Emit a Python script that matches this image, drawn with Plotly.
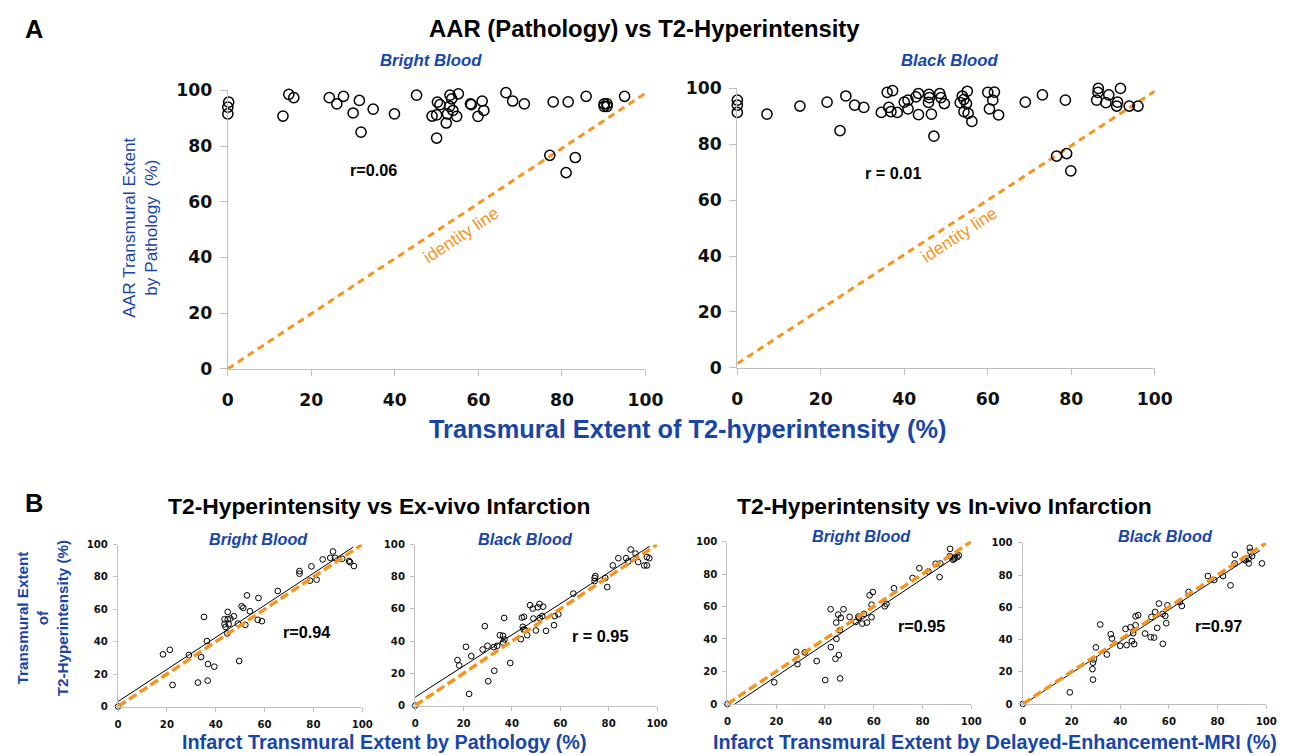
import plotly.graph_objects as go

W, H = 1289, 755
# measured photo mapping of this page: photo = A + S * figure_px
AX, SX = 11.0, 0.99
AY, SY = 17.3, 0.977
FS = 1 / 0.985  # font compensation for the photo shrink

# ---------------- DATA ----------------
# Panel A1: AAR (Pathology) vs T2 - Bright Blood
a1_x = [0.2, 0, 0, 13.2, 14.6, 15.8, 24.3, 26.1, 27.7, 30, 31.5, 31.9, 34.8, 39.9, 45.2,
        48.9, 50, 50, 50.2, 50.8, 52.3, 52.6, 53.2, 53.6, 53.1, 53.9, 54.8, 55.2, 58.1, 58.3,
        59.9, 60.9, 61.3, 66.6, 68.2, 71, 77.1, 77.9, 81, 81.5, 83.2, 85.8, 86.3, 88.4, 89,
        90.1, 90.8, 90.1, 90.8, 95]
a1_y = [95.8, 94, 91.6, 90.8, 98.6, 97.4, 97.4, 95.2, 97.9, 91.9, 96.4, 85, 93.3, 91.6, 98.3,
        90.8, 91.2, 82.9, 95.8, 94.9, 88.3, 91.6, 98.3, 97, 94.3, 92.8, 90.7, 98.8, 95.2, 94.9,
        90.7, 96.2, 92.8, 99.2, 96.2, 95.2, 76.7, 95.9, 70.5, 95.9, 75.9, 97.9, 100.2, 100.2, 100.2,
        95.2, 95.2, 94.3, 94.3, 97.9]
# Panel A2: AAR (Pathology) vs T2 - Black Blood
a2_x = [0, 0, 0, 7.1, 15, 21.5, 24.6, 26, 28.1, 30.3, 34.5, 35.9, 36.3, 36.8, 37.2, 38.3,
        40, 40.9, 40.9, 42.8, 43.4, 43.4, 45.9, 46, 45.8, 46.5, 47.1, 48.5, 48.8, 49.6, 53.4,
        53.9, 54.3, 54.3, 54.9, 55.1, 55.3, 56.2, 60, 60.4, 61.2, 61.6, 62.6, 69, 73.1, 76.5,
        78.6, 78.9, 79.9, 86.1, 86.4, 86.5, 88.3, 89, 91.1, 90.9, 91.8, 93.9, 96]
a2_y = [95.8, 94, 91.4, 90.8, 93.7, 95.1, 84.9, 97.3, 94, 93.2, 91.4, 98.6, 93.2, 91.7, 99.2, 91.4,
        95.1, 95.8, 92.7, 97, 98.2, 90.6, 97.9, 96.7, 95, 90.8, 82.9, 98.2, 96.7, 94.6, 94.9,
        97.3, 96.1, 91.7, 94.6, 99, 91.1, 88.2, 98.6, 92.7, 95.8, 98.7, 90.5, 95.1, 97.7, 75.8,
        95.8, 76.7, 70.5, 95.8, 98.6, 100, 94.9, 97.7, 95.1, 93.7, 100, 93.7, 93.7]
# Panel B1: T2 vs Ex-vivo infarct - Bright Blood
b1_x = [0, 18.4, 21.2, 22.3, 29, 32.7, 34, 35.2, 36.4, 36.8, 36.7, 39.4, 43.6, 43.6, 44, 44.9,
        44.9, 44.7, 45.3, 46, 47.4, 49.1, 49.6, 50.6, 51.3, 52.1, 52.8, 54, 57.2, 57.5, 58.9,
        65.4, 74.3, 74.3, 78.6, 79.2, 81.3, 83.8, 86.9, 88, 88.9, 91.8, 94.6, 95, 96.6]
b1_y = [0, 32.2, 35, 13.3, 31.8, 14.8, 30.5, 55.3, 40.4, 26.2, 16, 24.6, 53.9, 50.8, 49.2, 58.4,
        53.9, 45.1, 50.8, 54.3, 55.7, 51.2, 28.1, 61.9, 60.9, 50.4, 68.6, 58.8, 53.5, 67, 52.7,
        71.3, 83.6, 82, 77.7, 86.5, 78.3, 90.8, 91.8, 95.7, 91.8, 91.2, 89.8, 89.1, 86.7]
# Panel B2: T2 vs Ex-vivo infarct - Black Blood
b2_x = [0, 17.5, 18.2, 21, 22.3, 23.2, 27.9, 28.8, 29.9, 30.2, 32.5, 32.7, 33.9, 35, 36.3, 36.3,
        36.8, 36.9, 39.3, 43.7, 44.1, 45, 44.5, 44.8, 45.5, 46.3, 47.5, 48.6, 48.9, 49.9, 50.7,
        51.4, 51.5, 52.5, 52.9, 54.1, 57.4, 57.7, 59.2, 65.4, 74.2, 74.5, 74.2, 78.6, 79.4, 81.7,
        84, 87.2, 88.1, 89.1, 91.1, 92.2, 94.7, 95.8, 95.8, 96.8]
b2_y = [0, 28.2, 24.9, 36.5, 7.2, 30.7, 34.8, 49.3, 37.1, 15.1, 36.3, 21.6, 37.1, 43.7, 43.3, 39.2,
        54.4, 41, 26.4, 41.2, 54.6, 55.1, 48.9, 47.2, 46.8, 43.7, 62.3, 60.2, 54, 46.6, 61,
        63.1, 54.4, 55.5, 61.4, 46.4, 49.9, 55.5, 56.7, 69.5, 79.2, 80.4, 77.3, 79.2, 73.6, 87,
        91.5, 91.5, 89.5, 96.9, 94.4, 89.1, 87, 87, 92.2, 91.5]
# Panel B3: T2 vs In-vivo (DE-MRI) infarct - Bright Blood
b3_x = [0, 19.2, 28.2, 28.7, 31.7, 36.6, 40.1, 42.3, 42.4, 44.3, 44.7, 44.6, 45.4, 45.7, 46.2,
        46.1, 46.5, 47.6, 50.1, 52.6, 53.7, 53.9, 55.3, 56, 57.2, 58.3, 59.1, 59.1, 59.6, 64.5,
        65.2, 68.3, 75.9, 78.7, 82.4, 85.4, 87, 87.3, 91.3, 91.2, 92.5, 93.2, 93, 94.3, 94.9]
b3_y = [0, 13.3, 32.1, 24.5, 31.7, 26.4, 14.7, 58.3, 35, 27.8, 40.1, 50.1, 55, 30.1, 15.7,
        45.4, 53, 58.3, 53.6, 50.5, 53.8, 53, 49.5, 55.4, 50.1, 66.9, 61.1, 53.4, 68.9, 60.1,
        61.6, 71.2, 77.5, 83.6, 81.6, 86.3, 78.1, 86.5, 95.5, 91, 88.8, 90.2, 89.4, 90.4, 91.4]
# Panel B4: T2 vs In-vivo (DE-MRI) infarct - Black Blood
b4_x = [0, 19.3, 28.8, 28.6, 28.8, 29.2, 30, 31.8, 34.5, 36.1, 36.6, 40, 42.2, 42.6, 44.2, 44.8,
        45.3, 45.7, 46.3, 46.3, 47.4, 50.2, 52.8, 52.5, 53.9, 54.3, 55.2, 55.9, 57.4, 57.5, 58.5,
        58.9, 59.4, 64.5, 65.3, 68.1, 76, 78.6, 82.2, 85.3, 87, 87.1, 90.9, 91.5, 92.8, 93.2,
        93.5, 94.2, 98.2, 92.7]
b4_y = [0, 7.2, 15.1, 21.6, 25.6, 27.6, 35.1, 49.3, 30.7, 43.3, 40.6, 36.1, 46.6, 36.5, 47.6, 39,
        43.9, 37.1, 54.4, 48.9, 55.1, 43.7, 54, 41.4, 41.2, 57.1, 47.2, 62.3, 55.9, 37.3, 54.6,
        50.1, 61.2, 63.3, 60.8, 69.5, 79.4, 76.9, 79.4, 73.6, 87.2, 92.6, 89.7, 89.1, 87.2, 96.9,
        94.4, 91.8, 87.2, 90.1]

# identity lines and regression (fit) lines: [start, end]
a1_id_x, a1_id_y = [0, 100], [0, 99]
a2_id_x, a2_id_y = [0, 100], [1.5, 99]
b_id_x, b_id_y = [0, 100], [0, 100]
b1_fit_x, b1_fit_y = [0, 96.3], [3.1, 98.4]
b2_fit_x, b2_fit_y = [0, 97], [5.2, 99]
b3_fit_x, b3_fit_y = [3.1, 95.3], [0, 92.4]
b4_fit_x, b4_fit_y = [0.5, 97.5], [0, 95.3]

r_labels = ["r=0.06", "r = 0.01", "r=0.94", "r = 0.95", "r=0.95", "r=0.97"]
tick_vals = [0, 20, 40, 60, 80, 100]

# ---------------- STYLE ----------------
ORANGE = "#F7941E"
BLUE = "#1846A8"
GRAY = "#BFBFBF"
ARIAL = "Liberation Sans"


def fx(px):
    return ((px - AX) / SX) / W


def fy(py):
    return 1 - ((py - AY) / SY) / H


fig = go.Figure()

# panel boxes in target picture pixels: (x0, x1, ytop, ybottom)
boxes = {
    1: (226.7, 648.0, 90.0, 369.3),
    2: (740.7, 1161.7, 88.0, 368.3),
    3: (116.0, 362.3, 545.7, 708.3),
    4: (415.7, 659.7, 545.7, 707.3),
    5: (730.7, 976.7, 542.7, 705.7),
    6: (1028.7, 1274.3, 544.0, 705.7),
}

layout = dict(width=W, height=H, margin=dict(l=0, r=0, t=0, b=0),
              paper_bgcolor="white", plot_bgcolor="white", showlegend=False)

for i, (x0, x1, yt, yb) in boxes.items():
    big = i <= 2
    sfx = "" if i == 1 else str(i)
    tf = dict(family="DejaVu Sans", size=(17 if big else 10) * FS, weight="bold", color="#111111")
    layout["xaxis" + sfx] = dict(domain=[fx(x0), fx(x1)], range=[0, 100], anchor="y" + sfx,
                                 showgrid=False, zeroline=False, showline=True, linecolor=GRAY,
                                 linewidth=1.3, ticks="outside", ticklen=6 if big else 4,
                                 tickcolor=GRAY, tickwidth=1.3, tickvals=tick_vals, tickfont=tf,
                                 ticklabelstandoff=9 if big else 4, fixedrange=True)
    layout["yaxis" + sfx] = dict(domain=[fy(yb), fy(yt)], range=[0, 100], anchor="x" + sfx,
                                 showgrid=False, zeroline=False, showline=True, linecolor=GRAY,
                                 linewidth=1.3, ticks="outside", ticklen=7 if big else 4,
                                 tickcolor=GRAY, tickwidth=1.3, tickvals=tick_vals, tickfont=tf,
                                 ticklabelstandoff=4 if big else 3, fixedrange=True)


def add_scatter(xs, ys, n, big):
    sfx = "" if n == 1 else str(n)
    fig.add_trace(go.Scatter(x=xs, y=ys, mode="markers", xaxis="x" + sfx, yaxis="y" + sfx,
                             cliponaxis=False,
                             marker=dict(symbol="circle-open", size=10.2 if big else 5.7,
                                         color="black",
                                         line=dict(color="black", width=1.5 if big else 1))))


def add_line(xs, ys, n, color, width, dash):
    sfx = "" if n == 1 else str(n)
    fig.add_trace(go.Scatter(x=xs, y=ys, mode="lines", xaxis="x" + sfx, yaxis="y" + sfx,
                             cliponaxis=False, hoverinfo="skip",
                             line=dict(color=color, width=width, dash=dash)))


# A panels
add_line(a1_id_x, a1_id_y, 1, ORANGE, 3, "7px,5px")
add_scatter(a1_x, a1_y, 1, True)
add_line(a2_id_x, a2_id_y, 2, ORANGE, 3, "7px,5px")
add_scatter(a2_x, a2_y, 2, True)
# B panels
fits = [(b1_fit_x, b1_fit_y), (b2_fit_x, b2_fit_y), (b3_fit_x, b3_fit_y), (b4_fit_x, b4_fit_y)]
bdata = [(b1_x, b1_y), (b2_x, b2_y), (b3_x, b3_y), (b4_x, b4_y)]
for k in range(4):
    n = k + 3
    add_scatter(bdata[k][0], bdata[k][1], n, False)
    add_line(fits[k][0], fits[k][1], n, "black", 1, "solid")
    add_line(b_id_x, b_id_y, n, ORANGE, 3.5, "9px,4px")

ann = []


def text(px, py, t, size, color="black", bold=True, italic=False, angle=0, family=ARIAL):
    ann.append(dict(x=fx(px), y=fy(py), xref="paper", yref="paper", text=t, showarrow=False,
                    textangle=angle, xanchor="center", yanchor="middle",
                    font=dict(family=family, size=size * FS, color=color,
                              weight="bold" if bold else "normal",
                              style="italic" if italic else "normal")))


# panel letters and titles
text(31, 28, "A", 25)
text(31, 504, "B", 25)
text(647, 28, "AAR (Pathology) vs T2-Hyperintensity", 23.5)
text(379, 507, "T2-Hyperintensity vs Ex-vivo Infarction", 22.5)
text(950, 507, "T2-Hyperintensity vs In-vivo Infarction", 22.5)
# subtitles
text(432, 60, "Bright Blood", 16.5, BLUE, italic=True)
text(955, 60, "Black Blood", 16.5, BLUE, italic=True)
text(258, 540, "Bright Blood", 16, BLUE, italic=True)
text(527, 540, "Black Blood", 16, BLUE, italic=True)
text(866, 537, "Bright Blood", 16, BLUE, italic=True)
text(1173, 537, "Black Blood", 16, BLUE, italic=True)
# r values
r_pos = [(374, 170), (898, 173), (306, 634), (602, 638), (926, 627), (1226, 627)]
for (px, py), r in zip(r_pos, r_labels):
    text(px, py, r, 16)
# axis titles
text(690, 430, "Transmural Extent of T2-hyperintensity (%)", 25, BLUE)
text(138, 228, "AAR Transmural Extent<br>by Pathology  (%)", 17, BLUE, bold=False, angle=-90)
text(40, 620, "Transmural Extent<br>of<br>T2-Hyperintensity (%)", 15, BLUE, angle=-90)
text(385, 744, "Infarct Transmural Extent by Pathology (%)", 19.5, BLUE)
text(1001, 744, "Infarct Transmural Extent by Delayed-Enhancement-MRI (%)", 19.5, BLUE)

# identity line labels (data coordinates)
ann.append(dict(x=55.8, y=48, xref="x", yref="y", text="identity line", showarrow=False,
                textangle=-33.5, font=dict(family=ARIAL, size=17 * FS, color=ORANGE)))
ann.append(dict(x=53, y=47.6, xref="x2", yref="y2", text="identity line", showarrow=False,
                textangle=-33, font=dict(family=ARIAL, size=17 * FS, color=ORANGE)))

layout["annotations"] = ann
fig.update_layout(**layout)
fig.write_html("out.html")
